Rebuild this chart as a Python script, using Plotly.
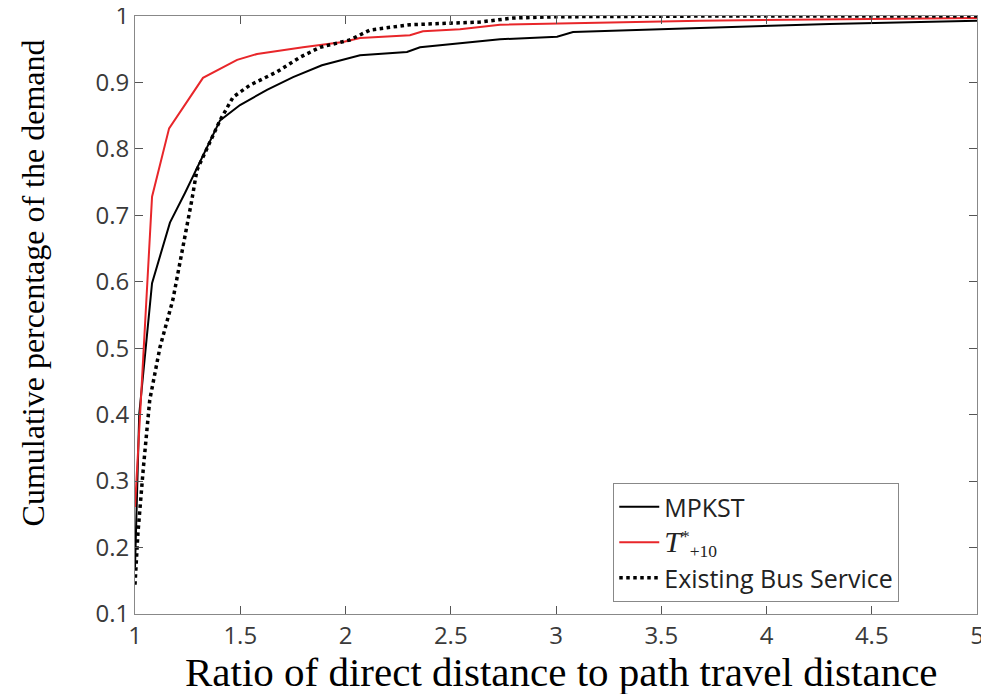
import plotly.graph_objects as go

# MPKST
mpkst_x = [1.0, 1.02, 1.081, 1.166, 1.238, 1.404, 1.499, 1.627, 1.751, 1.888, 2.069, 2.292, 2.354, 2.544, 2.734, 3.005, 3.081, 3.684, 4.3, 5.0]
mpkst_y = [0.17, 0.40, 0.598, 0.689, 0.734, 0.843, 0.866, 0.889, 0.908, 0.926, 0.941, 0.946, 0.953, 0.959, 0.965, 0.969, 0.976, 0.982, 0.988, 0.993]

# T*_{+10}
t10_x = [1.0, 1.04, 1.081, 1.162, 1.323, 1.485, 1.58, 1.798, 1.988, 2.069, 2.306, 2.368, 2.544, 2.734, 3.684, 5.0]
t10_y = [0.261, 0.50, 0.728, 0.831, 0.907, 0.934, 0.943, 0.953, 0.961, 0.967, 0.971, 0.977, 0.980, 0.987, 0.993, 0.997]

# Existing Bus Service
bus_x = [1.0, 1.014, 1.04, 1.07, 1.119, 1.18, 1.27, 1.294, 1.404, 1.466, 1.546, 1.674, 1.784, 1.879, 2.02, 2.069, 2.116, 2.306, 2.496, 2.639, 2.796, 3.0, 3.684, 5.0]
bus_y = [0.144, 0.222, 0.321, 0.422, 0.502, 0.573, 0.723, 0.768, 0.843, 0.878, 0.896, 0.916, 0.938, 0.953, 0.964, 0.971, 0.979, 0.987, 0.990, 0.991, 0.997, 0.999, 1.0, 1.0]

x_ticks = [1, 1.5, 2, 2.5, 3, 3.5, 4, 4.5, 5]
x_tick_labels = ["1", "1.5", "2", "2.5", "3", "3.5", "4", "4.5", "5"]
y_ticks = [0.1, 0.2, 0.3, 0.4, 0.5, 0.6, 0.7, 0.8, 0.9, 1.0]
y_tick_labels = ["0.1", "0.2", "0.3", "0.4", "0.5", "0.6", "0.7", "0.8", "0.9", "1"]

x_title = "Ratio of direct distance to path travel distance"
y_title = "Cumulative percentage of the demand"

fig = go.Figure()
fig.add_trace(go.Scatter(x=mpkst_x, y=mpkst_y, mode="lines", name="MPKST",
                         line=dict(color="black", width=2)))
fig.add_trace(go.Scatter(x=t10_x, y=t10_y, mode="lines",
                         name="<span style='font-family:Liberation Serif;font-size:30px'><i>T</i></span>"
                              "<span style='font-family:Liberation Serif'><sup>*</sup><sub>+10</sub></span>",
                         line=dict(color="#e8262a", width=2)))
fig.add_trace(go.Scatter(x=bus_x, y=bus_y, mode="lines", name="Existing Bus Service",
                         line=dict(color="black", width=3.5, dash="dot")))

tickfont = dict(family="Open Sans, DejaVu Sans", size=24, color="#3a3a3a")
serif = "Liberation Serif, Times New Roman"
fig.update_layout(
    width=981, height=686,
    margin=dict(l=127, r=12, t=8, b=80),
    paper_bgcolor="white", plot_bgcolor="white",
    showlegend=True,
    legend=dict(x=0.568, y=0.219, xanchor="left", yanchor="top",
                bgcolor="white", bordercolor="#888", borderwidth=1,
                font=dict(family="Open Sans, DejaVu Sans", size=25, color="#222"),
                tracegroupgap=0, itemwidth=40),
    xaxis=dict(range=[1, 5], tickvals=x_ticks, ticktext=x_tick_labels,
               ticks="inside", ticklen=8, tickcolor="#555", showline=True, linecolor="#888",
               linewidth=1, mirror="ticks", showgrid=False, zeroline=False,
               tickfont=tickfont, automargin=False, ticklabeloverflow="allow"),
    yaxis=dict(range=[0.0999, 1.0001], tickvals=y_ticks, ticktext=y_tick_labels,
               ticks="inside", ticklen=8, tickcolor="#555", showline=True, linecolor="#888",
               linewidth=1, mirror="ticks", showgrid=False, zeroline=False,
               tickfont=tickfont, automargin=False, ticklabeloverflow="allow"),
    annotations=[
        dict(text=x_title, xref="paper", yref="paper", x=0.506, y=-0.097,
             xanchor="center", yanchor="middle", showarrow=False,
             font=dict(family=serif, size=41, color="black")),
        dict(text=y_title, xref="paper", yref="paper", x=-0.121, y=0.553,
             xanchor="center", yanchor="middle", showarrow=False, textangle=-90,
             font=dict(family=serif, size=32, color="black")),
    ],
)

fig.write_html("out.html")
